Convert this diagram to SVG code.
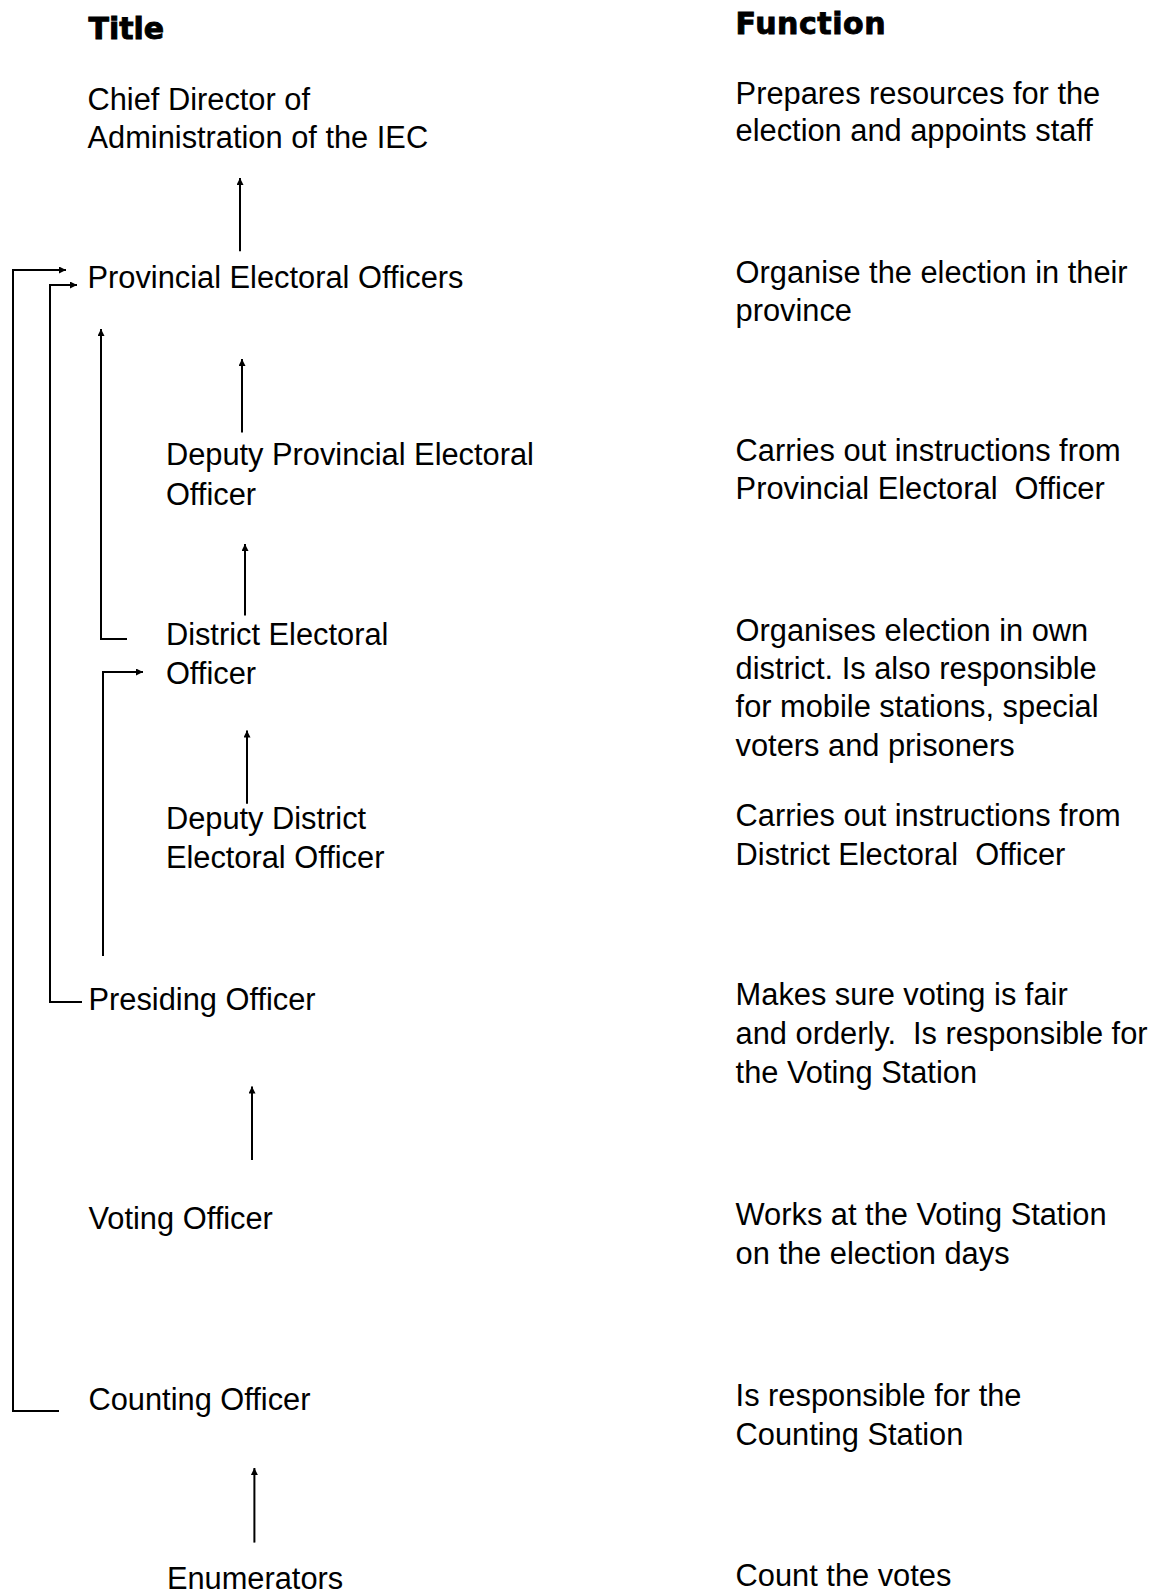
<svg xmlns="http://www.w3.org/2000/svg" width="1166" height="1596" viewBox="0 0 1166 1596">
<style>
  .h { font-family: "DejaVu Sans", sans-serif; font-weight: bold; font-size: 30px; fill: #000; stroke: #000; stroke-width: 0.9; }
  .t { font-family: "Liberation Sans", Arial, sans-serif; font-size: 30.8px; fill: #000; white-space: pre; }
  .c { fill: none; stroke: #000; stroke-width: 2; }
</style>
<defs>
  <marker id="ah" viewBox="0 0 10 10" refX="10" refY="5" markerWidth="9" markerHeight="7" markerUnits="userSpaceOnUse" orient="auto">
    <path d="M0,0 L10,5 L0,10 Z" fill="#000"/>
  </marker>
</defs>
<rect width="1166" height="1596" fill="#fff"/>
<g id="headers">
  <text class="h" x="88.5" y="38.7">Title</text>
  <text class="h" x="735.6" y="33.6" textLength="150">Function</text>
</g>
<g id="n-chief">
  <text class="t" x="87.5" y="109.9">Chief Director of</text>
  <text class="t" x="87.5" y="147.5">Administration of the IEC</text>
  <text class="t" x="735.6" y="103.8">Prepares resources for the</text>
  <text class="t" x="735.6" y="141.4">election and appoints staff</text>
</g>
<g id="n-peo">
  <text class="t" x="87.5" y="288">Provincial Electoral Officers</text>
  <text class="t" x="735.6" y="282.9">Organise the election in their</text>
  <text class="t" x="735.6" y="320.5">province</text>
</g>
<g id="n-dpeo">
  <text class="t" x="165.9" y="465">Deputy Provincial Electoral</text>
  <text class="t" x="165.9" y="504.7">Officer</text>
  <text class="t" x="735.6" y="461">Carries out instructions from</text>
  <text class="t" x="735.6" y="498.6" xml:space="preserve">Provincial Electoral  Officer</text>
</g>
<g id="n-deo">
  <text class="t" x="165.9" y="645">District Electoral</text>
  <text class="t" x="165.9" y="683.8">Officer</text>
  <text class="t" x="735.6" y="641">Organises election in own</text>
  <text class="t" x="735.6" y="678.7">district. Is also responsible</text>
  <text class="t" x="735.6" y="717.3">for mobile stations, special</text>
  <text class="t" x="735.6" y="756">voters and prisoners</text>
</g>
<g id="n-ddeo">
  <text class="t" x="165.9" y="829.3">Deputy District</text>
  <text class="t" x="165.9" y="868">Electoral Officer</text>
  <text class="t" x="735.6" y="826.2">Carries out instructions from</text>
  <text class="t" x="735.6" y="864.9" xml:space="preserve">District Electoral  Officer</text>
</g>
<g id="n-presiding">
  <text class="t" x="88.5" y="1010.4">Presiding Officer</text>
  <text class="t" x="735.6" y="1005.3">Makes sure voting is fair</text>
  <text class="t" x="735.6" y="1044" xml:space="preserve">and orderly.  Is responsible for</text>
  <text class="t" x="735.6" y="1082.6">the Voting Station</text>
</g>
<g id="n-voting">
  <text class="t" x="88.5" y="1229">Voting Officer</text>
  <text class="t" x="735.6" y="1225">Works at the Voting Station</text>
  <text class="t" x="735.6" y="1263.6">on the election days</text>
</g>
<g id="n-counting">
  <text class="t" x="88.5" y="1410">Counting Officer</text>
  <text class="t" x="735.6" y="1406.2">Is responsible for the</text>
  <text class="t" x="735.6" y="1444.9">Counting Station</text>
</g>
<g id="n-enum">
  <text class="t" x="166.9" y="1589.3">Enumerators</text>
  <text class="t" x="735.6" y="1586.3">Count the votes</text>
</g>
<g id="connectors">
  <path class="c" d="M240,251.3 V178" marker-end="url(#ah)"/>
  <path class="c" d="M242,432.4 V359" marker-end="url(#ah)"/>
  <path class="c" d="M245,615.6 V544" marker-end="url(#ah)"/>
  <path class="c" d="M247,803.8 V730.6" marker-end="url(#ah)"/>
  <path class="c" d="M252,1160 V1086.6" marker-end="url(#ah)"/>
  <path class="c" d="M254.4,1542.6 V1468" marker-end="url(#ah)"/>
  <path class="c" d="M59,1411 H13 V270 H66" marker-end="url(#ah)"/>
  <path class="c" d="M82,1002 H50 V285 H77" marker-end="url(#ah)"/>
  <path class="c" d="M127,639 H101 V329" marker-end="url(#ah)"/>
  <path class="c" d="M103,956 V672 H143" marker-end="url(#ah)"/>
</g>
</svg>
